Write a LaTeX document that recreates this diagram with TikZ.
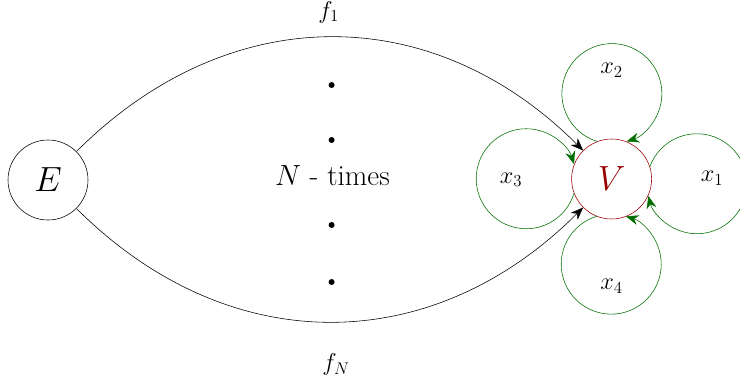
\documentclass[tikz,border=0pt]{standalone}
\usetikzlibrary{arrows.meta}
\definecolor{loopgreen}{RGB}{0,110,0}
\definecolor{vred}{RGB}{150,0,0}
\begin{document}
\begin{tikzpicture}[>={Stealth[length=9pt,width=7pt]},
  state/.style={draw, circle, minimum size=2cm, inner sep=0pt, font=\fontsize{31}{34}\selectfont},
  loopedge/.style={draw=loopgreen, ->},
  lbl/.style={font=\LARGE},
  dot/.style={circle, fill, inner sep=0pt, minimum size=0.15cm}]
  \useasboundingbox (0,0) rectangle (18.5,-9.575);
  \node[state] (E) at (1.2,-4.5) {$E$};
  \node[state, draw=vred, text=vred] (V) at (15.29,-4.475) {$V$};
  \draw[->] (E) to[out=45, in=135, looseness=1.08] (V);
  \draw[->] (E) to[out=-45, in=-135, looseness=1.08] (V);
  \node[lbl] (f1) at (8.22,-0.3) {$f_1$};
  \node[lbl] (fN) at (8.4,-9.12) {$f_N$};
  \node[dot] (d1) at (8.29,-2.125) {};
  \node[dot] (d2) at (8.29,-3.5) {};
  \node[dot] (d3) at (8.29,-5.625) {};
  \node[dot] (d4) at (8.29,-7.05) {};
  \node[font=\huge] (times) at (8.31,-4.4) {$N$ - times};
  \draw[loopedge] (V.111.6) arc[start angle=252.9, end angle=-72.9, radius=1.25];
  \draw[loopedge] (V.18.6) arc[start angle=159.9, end angle=-165.9, radius=1.25];
  \draw[loopedge] (V.201.6) arc[start angle=342.9, end angle=17.1, radius=1.25];
  \draw[loopedge] (V.248.4) arc[start angle=107.1, end angle=432.9, radius=1.25];
  \node[lbl] (x1) at ([shift={(2.51,0.02)}]V) {$x_1$};
  \node[lbl] (x2) at ([shift={(0,2.72)}]V) {$x_2$};
  \node[lbl] (x3) at ([shift={(-2.51,-0.02)}]V) {$x_3$};
  \node[lbl] (x4) at ([shift={(0,-2.68)}]V) {$x_4$};
\end{tikzpicture}
\end{document}
